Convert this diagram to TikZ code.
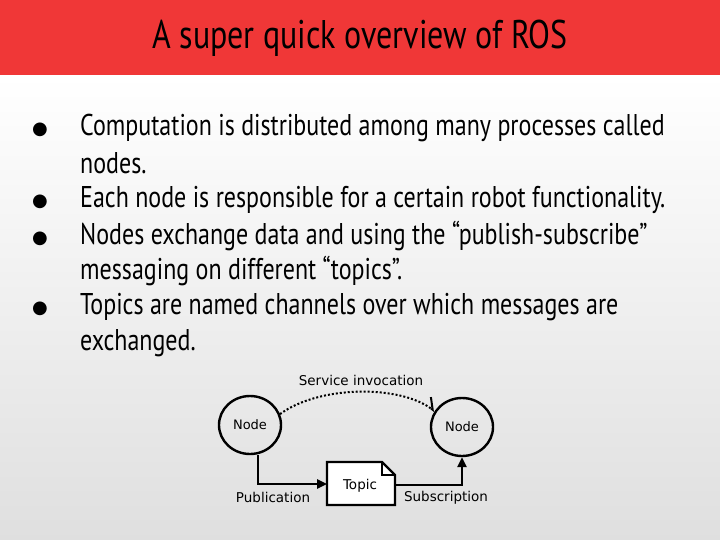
\documentclass[tikz,border=0pt]{standalone}
\usepackage{fontspec}
\setmainfont[FakeStretch=0.8]{PT Sans}
\newfontfamily\diagfont{DejaVu Sans}
\usetikzlibrary{positioning,arrows.meta,shapes.geometric,shapes.misc}
\definecolor{titlered}{RGB}{240,55,55}
\tikzset{
  rosnode/.style = {draw, ellipse, line width=2.4pt, minimum width=62pt, minimum height=58pt, font=\diagfont\fontsize{13}{15}\selectfont},
  label/.style = {font=\diagfont\fontsize{13.5}{15}\selectfont, inner sep=1pt},
  bullet/.style = {anchor=west, font=\fontsize{30}{34}\selectfont, inner sep=0pt},
  link/.style = {line width=2.4pt, -{Triangle[length=10pt,width=9pt]}}
}
\newcommand{\blt}{\makebox[48pt][l]{\diagfont\fontsize{18}{18}\selectfont\raisebox{1pt}{●}}}
\begin{document}
\begin{tikzpicture}[x=1pt,y=-1pt]
\useasboundingbox (0,0) rectangle (720,540);
\shade[top color=white, bottom color=gray!25] (0,75) rectangle (720,540);
\fill[titlered] (0,0) rectangle (720,75);
\node[font=\fontsize{40}{46}\selectfont] (title) at (360,38) {A super quick overview of ROS};
% bullet points
\node[bullet] (b1) at (32,128) {\blt Computation is distributed among many processes called};
\node[bullet] (b1b) at (80,163) {nodes.};
\node[bullet] (b2) at (32,200) {\blt Each node is responsible for a certain robot functionality.};
\node[bullet] (b3) at (32,236) {\blt Nodes exchange data and using the “publish-subscribe”};
\node[bullet] (b3b) at (80,271) {messaging on different “topics”.};
\node[bullet] (b4) at (32,307) {\blt Topics are named channels over which messages are};
\node[bullet] (b4b) at (80,343) {exchanged.};
% diagram
\node[rosnode] (pub) at (250,425) {Node};
\node[rosnode] (sub) at (462,427) {Node};
\draw[line width=2.4pt, fill=white] (327,462) coordinate (tl) -- (382,462) -- (395,475) -- (395,505) -- (327,505) -- cycle;
\draw[line width=1.6pt] (382,462) -- (382,475) -- (395,475);
\node[label] (topic) at (360,486) {Topic};
\coordinate (tin) at (327,484);
\coordinate (tout) at (395,485);
\draw[link] (pub.south) ++(8,0) coordinate (pdown) -- (pdown |- tin) -- (tin);
\draw[link] (tout) -- (sub.south |- tout) -- (sub.south);
\draw[line width=2pt, dotted, -{Straight Barb[left, length=9pt]}] (pub.20) .. controls (320,385) and (400,385) .. (sub.150);
\node[label] (svc) at (361,380) {Service invocation};
\node[label] (publab) at (273,497) {Publication};
\node[label] (sublab) at (446,498) {Subscription};
\end{tikzpicture}
\end{document}
